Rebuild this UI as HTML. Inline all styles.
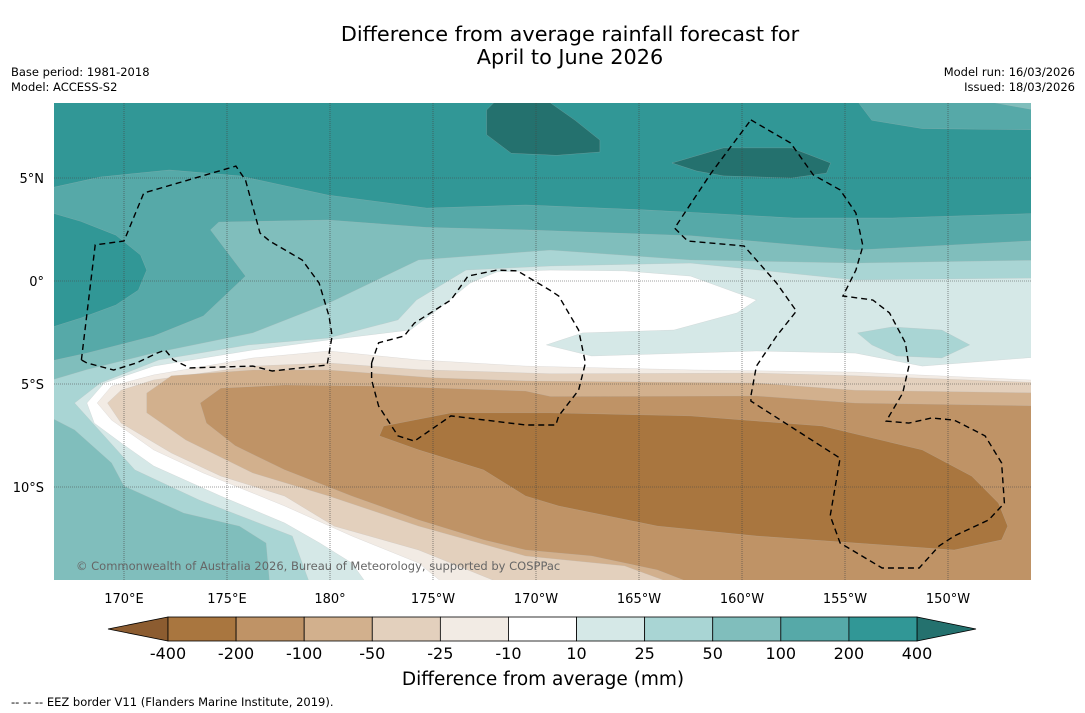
<!DOCTYPE html>
<html><head><meta charset="utf-8">
<style>
body{margin:0;background:#fff;}
svg{display:block;font-family:"DejaVu Sans","Liberation Sans",sans-serif;}
</style></head>
<body>
<svg id="chart" width="1085" height="713" viewBox="0 0 1085 713" xmlns="http://www.w3.org/2000/svg">
  <text x="570" y="41" font-size="20.8" text-anchor="middle" fill="#000">Difference from average rainfall forecast for</text>
  <text x="570" y="64" font-size="20.8" text-anchor="middle" fill="#000">April to June 2026</text>
  <text x="11" y="76" font-size="11.5">Base period: 1981-2018</text>
  <text x="11" y="91" font-size="11.5">Model: ACCESS-S2</text>
  <text x="1075" y="76" font-size="11.5" text-anchor="end">Model run: 16/03/2026</text>
  <text x="1075" y="91" font-size="11.5" text-anchor="end">Issued: 18/03/2026</text>
  <defs><clipPath id="mapclip"><rect x="54" y="103" width="977" height="477"/></clipPath></defs>
  <g id="map" clip-path="url(#mapclip)"></g>
  <g id="axes"></g>
  <g id="cbar"></g>
  <text x="543" y="685" font-size="18.5" text-anchor="middle">Difference from average (mm)</text>
  <text x="11" y="706" font-size="11.5">--  --  -- EEZ border V11 (Flanders Marine Institute, 2019).</text>
</svg>
<script>
// ---- data ----
const lonTicks = [170,175,180,185,190,195,200,205,210];
const lonTickLabels = ["170°E","175°E","180°","175°W","170°W","165°W","160°W","155°W","150°W"];
const latTicks = [5,0,-5,-10];
const latTickLabels = ["5°N","0°","5°S","10°S"];
const cbarLevels = [-400,-200,-100,-50,-25,-10,10,25,50,100,200,400];
const cbarColors = ["#a9763f","#bf9366","#d2b08d","#e3d0bd","#f2ebe4","#ffffff","#d5e8e7","#a9d5d4","#80bebc","#56a9a8","#319796"];
const cbarUnder = "#8c5c30";
const cbarOver = "#24716e";

// contour regions (lon east 0-360, lat)
const band100 = [[166,4.42],[168.85,5.05],[172.2,5.39],[175.6,5.1],[179.9,4.17],[184.7,3.54],[189.5,3.69],[195.3,3.45],[202.5,3.06],[207.3,3.06],[215,3.3],[215,-15],[166,-15]];
const band200Left = [[166,3.45],[167.9,2.9],[169.6,2.23],[170.8,1.26],[171.1,0.53],[170.7,-0.44],[169.6,-1.17],[167.9,-1.8],[166,-2.4]];
const band50 = [[174.6,2.86],[179.9,2.96],[184.7,2.6],[189.5,2.48],[197.5,2.2],[205.5,1.5],[215,2.0],[215,-15],[166,-15],[166,-3.98],[168.2,-3.5],[171.44,-2.67],[173.85,-1.7],[175.9,0.24],[174.2,2.48]];
const band25 = [[166,-4.95],[168.2,-4.3],[171.44,-3.5],[176.25,-2.52],[179.95,-1.07],[184.3,1.02],[190.7,1.5],[197.5,1.02],[205.5,0.87],[215,1.02],[215,-15],[177.1,-15],[176.9,-12.72],[175.6,-11.9],[172.9,-11.26],[170,-9.95],[169.4,-8.83],[167.6,-7.23],[166,-6.4]];
const band10 = [[179.13,-15],[178.17,-12.38],[173.65,-10.63],[170.53,-9.17],[167.6,-5.92],[168.85,-4.95],[171.7,-3.83],[176.06,-3.1],[179.9,-2.77],[183.3,-1.89],[184.2,-0.92],[186.6,0.53],[190.7,0.73],[197.5,0.87],[205.5,0.05],[215,0.15],[215,-15]];
const bandM10 = [[182,-15],[181.06,-13.69],[179.5,-12.72],[177.8,-11.75],[174.7,-10.44],[171.44,-8.98],[169.86,-7.86],[168.56,-6.9],[168.2,-5.92],[169.04,-4.95],[171.44,-4.13],[176.25,-3.35],[179.95,-2.86],[183.9,-2.38],[185.2,-1.41],[186.8,-0.1],[188.1,0.44],[190.7,0.53],[194.3,0.49],[197.5,0.24],[200.7,-0.92],[199.76,-1.55],[196.7,-2.38],[192.26,-2.52],[190.5,-3.1],[192.7,-3.64],[200.7,-3.4],[205.5,-3.5],[208.75,-4.13],[215,-3.64],[215,-15]];
const band25Right = [[205.6,-2.52],[207.3,-2.23],[209.7,-2.38],[211.06,-3.1],[209.7,-3.74],[207.5,-3.64],[206.3,-3.1]];
const bandM25 = [[185.9,-15],[184.3,-13.69],[181.06,-12.38],[177.8,-10.92],[173.85,-9.32],[171.44,-8.2],[169.4,-6.75],[168.7,-5.92],[169.4,-5.1],[171.44,-4.56],[176.25,-3.74],[179.95,-3.4],[184.3,-3.83],[189.5,-4.13],[197.7,-4.32],[205.5,-4.42],[215,-4.85],[215,-15]];
const bandM50 = [[189.1,-15],[184.3,-13.06],[180.2,-11.9],[177.8,-10.44],[174.7,-9.47],[172.3,-8.35],[169.86,-6.9],[169.2,-5.92],[169.86,-5.3],[171.44,-4.8],[176.25,-4.13],[179.95,-3.98],[184.3,-4.3],[190.7,-4.5],[200.7,-4.47],[205.5,-4.6],[215,-4.95],[215,-15]];
const bandM100 = [[171.1,-5.44],[172.3,-4.6],[176.25,-4.32],[179.95,-4.32],[185,-4.7],[189.5,-4.85],[200.7,-4.95],[205.5,-5.3],[215,-5.44],[215,-15],[197.5,-15],[194.3,-13.83],[189.5,-13.35],[184.3,-11.9],[179.95,-10.44],[176.25,-9.32],[173.0,-7.72],[171.1,-6.4]];
const bandM200 = [[173.7,-5.92],[174.7,-5.2],[177.8,-5.05],[182.6,-5.1],[189.5,-5.34],[190.7,-5.6],[200.7,-5.58],[205.5,-5.92],[215,-6.07],[215,-15],[198.4,-15],[195.9,-14.03],[192.7,-13.35],[189.5,-13.06],[187.45,-12.57],[184.3,-11.6],[181.06,-10.44],[177.8,-9.17],[175.4,-8.0],[174.0,-6.9]];
const bandM400 = [[182.4,-7.52],[182.6,-7.04],[185.9,-6.4],[190.7,-6.4],[197.5,-6.55],[203.9,-7.04],[208.75,-8.2],[211.15,-9.47],[212.45,-10.78],[212.9,-11.9],[212.6,-12.57],[210.3,-13.06],[205.5,-12.72],[200.7,-12.38],[195.9,-11.9],[191.1,-10.92],[189.5,-10.44],[187.45,-9.17],[184.3,-8.2]];
const band400a = [[187.6,8.3],[188.3,9],[190.2,9],[191.9,7.8],[193.1,6.84],[193.1,6.26],[191.0,6.1],[188.8,6.2],[187.6,7.1]];
const band400b = [[196.6,5.73],[199.1,6.46],[202.4,6.46],[204.3,5.73],[204.1,5.24],[202.4,5.0],[199.1,5.1],[197.8,5.34]];
const band100TopRight = [[205.4,9],[206.3,7.8],[208.75,7.4],[215,7.33],[215,9]];
const band50TopRight = [[210.3,9],[215,8.16],[215,9]];
const bandNames = ["band-100-200","band-200-400-west","band-50-100","band-25-50","band-10-25","band-neutral","band-25-50-east","band-minus10-minus25","band-minus25-minus50","band-minus50-minus100","band-minus100-minus200","band-minus200-minus400","band-above-400-a","band-above-400-b","band-100-200-northeast","band-50-100-northeast"];
const bands = [band100,band200Left,band50,band25,band10,bandM10,band25Right,bandM25,bandM50,bandM100,bandM200,bandM400,band400a,band400b,band100TopRight,band50TopRight];
const bandColorIdx = [9,10,8,7,6,5,7,4,3,2,1,0,11,11,9,8];

const eezWest = [[167.93,-3.83],[168.6,1.75],[170,1.94],[170.96,4.27],[175.43,5.58],[175.9,4.9],[176.6,2.33],[177.07,1.94],[178.65,1.02],[179.47,-0.1],[179.95,-1.7],[180.1,-2.67],[179.86,-4.08],[177.2,-4.37],[176.25,-4.13],[173.2,-4.22],[172.4,-3.83],[172.0,-3.35],[171.6,-3.5],[170.6,-3.98],[169.5,-4.32],[168.2,-3.98],[167.93,-3.83]];
const eezMid = [[182.02,-3.98],[182.36,-3.0],[183.6,-2.67],[184.1,-2.04],[185.87,-0.92],[186.7,0.24],[188.1,0.53],[189.1,0.49],[190.67,-0.44],[191.1,-0.73],[192.07,-2.38],[192.4,-3.98],[192.07,-5.3],[191.1,-6.55],[190.96,-6.99],[189.5,-6.99],[185.87,-6.55],[184.1,-7.77],[183.3,-7.52],[182.36,-6.07],[182.02,-4.8],[182.02,-3.98]];
const eezEast = [[200.43,7.82],[202.36,6.7],[203.46,5.15],[204.76,4.42],[205.53,3.3],[205.87,1.7],[205.53,0.53],[204.9,-0.73],[206.35,-0.92],[207.16,-1.55],[207.93,-3.0],[208.1,-4.13],[207.8,-5.44],[207.0,-6.8],[208.1,-6.9],[209.2,-6.65],[210.3,-6.75],[211.8,-7.52],[212.6,-8.83],[212.74,-10.78],[211.97,-11.6],[210.3,-12.38],[209.57,-12.86],[208.6,-13.93],[206.8,-13.93],[204.76,-12.72],[204.28,-11.4],[204.76,-8.6],[200.43,-5.83],[200.43,-5.58],[200.7,-4.13],[201.68,-2.67],[202.64,-1.46],[201.68,-0.1],[200.1,1.7],[197.36,1.94],[196.73,2.57],[198.5,5.24],[200.43,7.82]];
const eezs = [eezWest, eezMid, eezEast];
const eezNames = ["eez-border-tuvalu","eez-border-tokelau","eez-border-kiribati"];

// ---- axis functions ----
const NS = "http://www.w3.org/2000/svg";
function xScale(lon){ return 124 + (lon - 170) * 20.6; }
function yScale(lat){ return 281 - lat * 20.6; }
function ptsStr(arr){ return arr.map(p => xScale(p[0]).toFixed(1) + "," + yScale(p[1]).toFixed(1)).join(" "); }
const allColors = cbarColors.concat([cbarOver]);

const map = document.getElementById("map");
const bg = document.createElementNS(NS, "rect");
bg.setAttribute("x", 54); bg.setAttribute("y", 103); bg.setAttribute("width", 977); bg.setAttribute("height", 477);
bg.setAttribute("fill", cbarColors[10]);


map.appendChild(bg);
bands.forEach((b, i) => {
  const p = document.createElementNS(NS, "polygon");
  p.setAttribute("points", ptsStr(b));
  p.setAttribute("fill", allColors[bandColorIdx[i]]);
  p.setAttribute("stroke", "#b8b8b8");
  p.setAttribute("stroke-width", "0.4");
  p.setAttribute("stroke-opacity", "0.5");
  
  
  map.appendChild(p);
});
lonTicks.forEach(l => {
  const ln = document.createElementNS(NS, "line");
  ln.setAttribute("x1", xScale(l)); ln.setAttribute("x2", xScale(l));
  ln.setAttribute("y1", 103); ln.setAttribute("y2", 580);
  ln.setAttribute("stroke", "#444"); ln.setAttribute("stroke-width", "0.6"); ln.setAttribute("stroke-dasharray", "1,1");
  
  
  map.appendChild(ln);
});
latTicks.forEach(l => {
  const ln = document.createElementNS(NS, "line");
  ln.setAttribute("x1", 54); ln.setAttribute("x2", 1031);
  ln.setAttribute("y1", yScale(l)); ln.setAttribute("y2", yScale(l));
  ln.setAttribute("stroke", "#444"); ln.setAttribute("stroke-width", "0.6"); ln.setAttribute("stroke-dasharray", "1,1");
  
  
  map.appendChild(ln);
});
eezs.forEach((e, i) => {
  const pl = document.createElementNS(NS, "polyline");
  pl.setAttribute("points", ptsStr(e));
  pl.setAttribute("fill", "none"); pl.setAttribute("stroke", "#000");
  pl.setAttribute("stroke-width", "1.4"); pl.setAttribute("stroke-dasharray", "6,4");
  
  
  map.appendChild(pl);
});
const cr = document.createElementNS(NS, "text");
cr.setAttribute("x", 76); cr.setAttribute("y", 570); cr.setAttribute("font-size", "11.5");
cr.setAttribute("fill", "#666");
cr.textContent = "© Commonwealth of Australia 2026, Bureau of Meteorology, supported by COSPPac";


map.appendChild(cr);

const axes = document.getElementById("axes");
lonTicks.forEach((l, i) => {
  const t = document.createElementNS(NS, "text");
  t.setAttribute("x", xScale(l)); t.setAttribute("y", 603);
  t.setAttribute("font-size", "13"); t.setAttribute("text-anchor", "middle");
  t.textContent = lonTickLabels[i];
  
  
  axes.appendChild(t);
});
latTicks.forEach((l, i) => {
  const t = document.createElementNS(NS, "text");
  t.setAttribute("x", 44); t.setAttribute("y", yScale(l) + 5);
  t.setAttribute("font-size", "13"); t.setAttribute("text-anchor", "end");
  t.textContent = latTickLabels[i];
  
  
  axes.appendChild(t);
});

const cbar = document.getElementById("cbar");
const cx0 = 168, cx1 = 917, cy = 617, ch = 24;
const cw = (cx1 - cx0) / cbarColors.length;
function cbX(i){ return cx0 + i * cw; }
const under = document.createElementNS(NS, "polygon");
under.setAttribute("points", `${cx0},${cy} ${cx0},${cy+ch} 108,${cy+ch/2}`);
under.setAttribute("fill", cbarUnder); under.setAttribute("stroke", "#000"); under.setAttribute("stroke-width", "0.8");


cbar.appendChild(under);
const over = document.createElementNS(NS, "polygon");
over.setAttribute("points", `${cx1},${cy} ${cx1},${cy+ch} 976,${cy+ch/2}`);
over.setAttribute("fill", cbarOver); over.setAttribute("stroke", "#000"); over.setAttribute("stroke-width", "0.8");


cbar.appendChild(over);
cbarColors.forEach((c, i) => {
  const r = document.createElementNS(NS, "rect");
  r.setAttribute("x", cbX(i)); r.setAttribute("y", cy); r.setAttribute("width", cw); r.setAttribute("height", ch);
  r.setAttribute("fill", c); r.setAttribute("stroke", "#000"); r.setAttribute("stroke-width", "0.8");
  
  
  cbar.appendChild(r);
});
cbarLevels.forEach((v, i) => {
  const t = document.createElementNS(NS, "text");
  t.setAttribute("x", cbX(i)); t.setAttribute("y", 659);
  t.setAttribute("font-size", "16"); t.setAttribute("text-anchor", "middle");
  t.textContent = String(v);
  
  
  cbar.appendChild(t);
});
</script>
</body></html>
